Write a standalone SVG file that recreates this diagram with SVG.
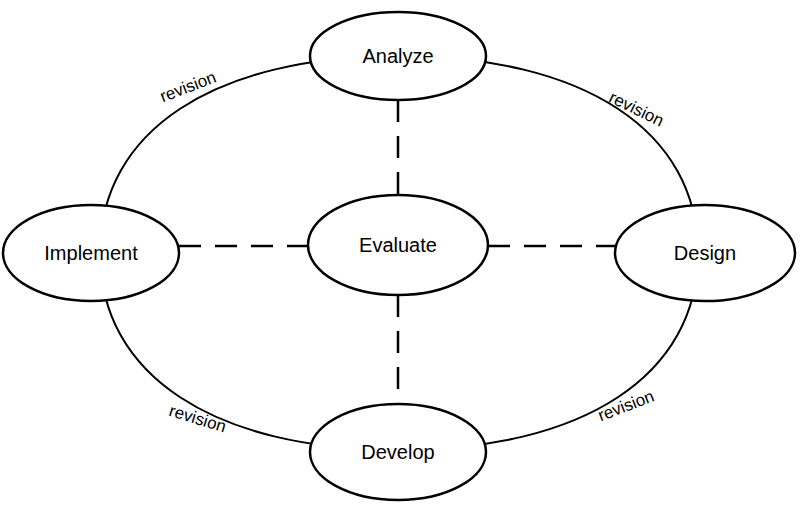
<svg xmlns="http://www.w3.org/2000/svg" width="800" height="505" viewBox="0 0 800 505">
<style>
.n{fill:#fff;stroke:#000;stroke-width:2.5}
.t{font-family:"Liberation Sans",Arial,sans-serif;font-size:20px;text-anchor:middle;dominant-baseline:central}
.r{font-family:"Liberation Sans",Arial,sans-serif;font-size:17px;text-anchor:middle}
.d{stroke:#000;stroke-width:2.5;stroke-dasharray:22 14;fill:none}
</style>
<rect width="800" height="505" fill="#fff"/>
<g id="connectors">
<path d="M100,253 C100,131 214,56 399,56 C584,56 698,131 698,253 C698,375 584,450 399,450 C214,450 100,375 100,253 Z" fill="none" stroke="#000" stroke-width="2"/>
<line class="d" x1="398" y1="100" x2="398" y2="195"/>
<line class="d" x1="398" y1="295" x2="398" y2="404"/>
<line class="d" x1="179" y1="246" x2="308" y2="246"/>
<line class="d" x1="488" y1="246" x2="615" y2="246"/>
<text class="r" transform="translate(190,92) rotate(-21)">revision</text>
<text class="r" transform="translate(634,114) rotate(26)">revision</text>
<text class="r" transform="translate(196,424) rotate(17)">revision</text>
<text class="r" transform="translate(628,411) rotate(-21)">revision</text>
</g>
<g id="analyze"><ellipse class="n" cx="398" cy="56" rx="88" ry="44"/><text class="t" x="398" y="56">Analyze</text></g>
<g id="evaluate"><ellipse class="n" cx="398" cy="245" rx="90" ry="50"/><text class="t" x="398" y="245">Evaluate</text></g>
<g id="implement"><ellipse class="n" cx="91" cy="253" rx="88" ry="48"/><text class="t" x="91" y="253">Implement</text></g>
<g id="design"><ellipse class="n" cx="705" cy="253" rx="90" ry="48"/><text class="t" x="705" y="253">Design</text></g>
<g id="develop"><ellipse class="n" cx="398" cy="452" rx="88" ry="48"/><text class="t" x="398" y="452">Develop</text></g>
</svg>
